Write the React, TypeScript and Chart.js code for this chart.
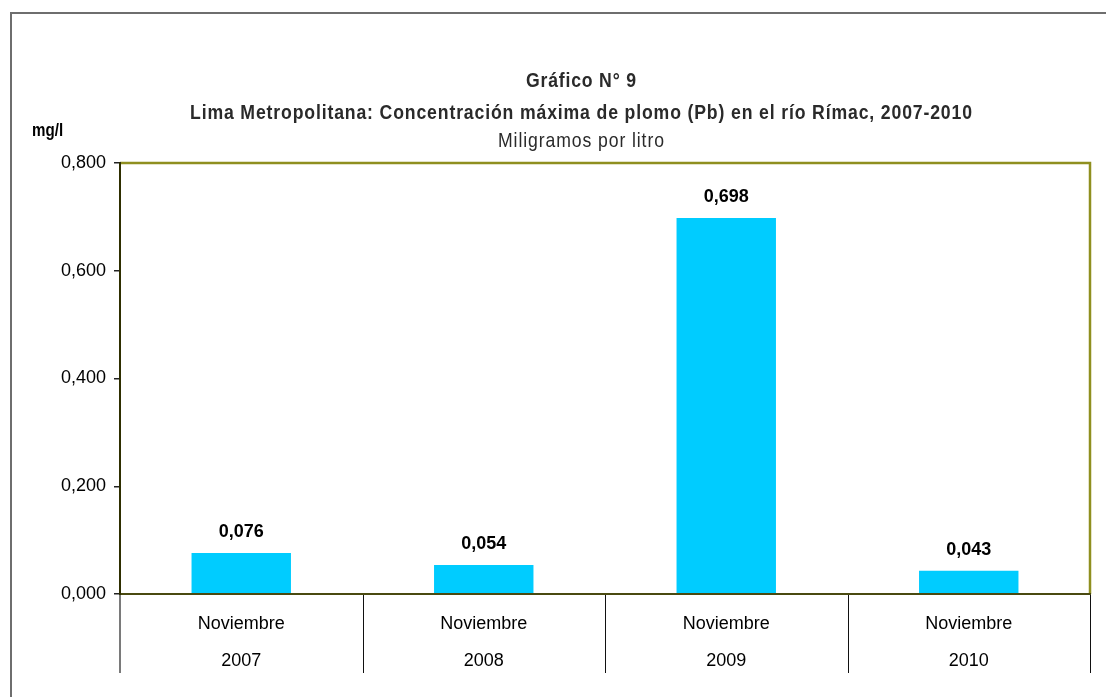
import React, { useEffect, useRef } from "react";
import { Chart, registerables } from "chart.js";

Chart.register(...registerables);

const categories: string[][] = [
  ["Noviembre", "2007"],
  ["Noviembre", "2008"],
  ["Noviembre", "2009"],
  ["Noviembre", "2010"],
];
const values: number[] = [0.076, 0.054, 0.698, 0.043];
const yMin = 0;
const yMax = 0.8;
const yStep = 0.2;
const titleLine1 = "Gráfico N° 9";
const titleLine2 =
  "Lima Metropolitana: Concentración máxima de plomo (Pb) en el río Rímac, 2007-2010";
const subtitle = "Miligramos por litro";
const unitLabel = "mg/l";

const fmt = (v: number) => v.toFixed(3).replace(".", ",");

const BASE_FONT = '"Liberation Sans", Arial, sans-serif';
const NARROW = 0.84;

function drawFitted(
  ctx: CanvasRenderingContext2D,
  text: string,
  cx: number,
  cy: number,
  target: number,
  font: string,
  color: string
) {
  ctx.save();
  ctx.font = font;
  (ctx as any).letterSpacing = "0px";
  const w = ctx.measureText(text).width * NARROW;
  const n = text.length;
  const sp = (target - w) / Math.max(1, n - 1);
  ctx.fillStyle = color;
  ctx.textAlign = "left";
  ctx.textBaseline = "middle";
  let x = cx - target / 2;
  for (const ch of text) {
    ctx.save();
    ctx.translate(x, cy);
    ctx.scale(NARROW, 1);
    ctx.fillText(ch, 0, 0);
    ctx.restore();
    x += ctx.measureText(ch).width * NARROW + sp;
  }
  ctx.restore();
}

const decorPlugin = {
  id: "decor",
  beforeDraw(chart: any) {
    const ctx: CanvasRenderingContext2D = chart.ctx;
    ctx.save();
    ctx.fillStyle = "#ffffff";
    ctx.fillRect(0, 0, chart.width, chart.height);
    ctx.strokeStyle = "#6e6e6e";
    ctx.lineWidth = 2;
    ctx.beginPath();
    ctx.moveTo(11, chart.height);
    ctx.lineTo(11, 13);
    ctx.lineTo(chart.width, 13);
    ctx.stroke();
    ctx.restore();

    drawFitted(ctx, titleLine1, 581, 81, 110, `bold 21px ${BASE_FONT}`, "#2a2a2a");
    drawFitted(ctx, titleLine2, 581, 113, 782, `bold 21px ${BASE_FONT}`, "#2a2a2a");
    drawFitted(ctx, subtitle, 581, 141, 166, `21px ${BASE_FONT}`, "#2a2a2a");

    ctx.save();
    ctx.font = `bold 18px ${BASE_FONT}`;
    ctx.fillStyle = "#000000";
    ctx.textBaseline = "middle";
    ctx.translate(32, 131);
    ctx.scale(NARROW, 1);
    ctx.fillText(unitLabel, 0, 0);
    ctx.restore();
  },
  afterDatasetsDraw(chart: any) {
    const ctx: CanvasRenderingContext2D = chart.ctx;
    const meta = chart.getDatasetMeta(0);
    ctx.save();
    ctx.font = `bold 18px ${BASE_FONT}`;
    ctx.fillStyle = "#000000";
    ctx.textAlign = "center";
    ctx.textBaseline = "middle";
    meta.data.forEach((bar: any, i: number) => {
      ctx.fillText(fmt(values[i]), bar.x, bar.y - 21);
    });
    ctx.restore();
  },
  afterDraw(chart: any) {
    const ctx: CanvasRenderingContext2D = chart.ctx;
    const { left, right, top, bottom } = chart.chartArea;
    const xs = chart.scales.x;
    ctx.save();
    const n = categories.length;
    for (let i = 0; i <= n; i++) {
      let px: number;
      if (i === 0) px = left;
      else if (i === n) px = right;
      else px = (xs.getPixelForValue(i - 1) + xs.getPixelForValue(i)) / 2;
      ctx.strokeStyle = i === 0 ? "#7a7a7a" : "#111111";
      ctx.lineWidth = i === 0 ? 2 : 1;
      ctx.beginPath();
      const xx = i === 0 ? px : Math.round(px) + 0.5;
      ctx.moveTo(xx, bottom);
      ctx.lineTo(xx, bottom + 79);
      ctx.stroke();
    }
    ctx.lineWidth = 2.5;
    ctx.strokeStyle = "#8f8f1f";
    ctx.beginPath();
    ctx.moveTo(left, top);
    ctx.lineTo(right, top);
    ctx.lineTo(right, bottom);
    ctx.stroke();
    ctx.lineWidth = 2;
    ctx.strokeStyle = "#4a4a10";
    ctx.beginPath();
    ctx.moveTo(left - 1, bottom);
    ctx.lineTo(right + 1, bottom);
    ctx.stroke();
    ctx.strokeStyle = "#2e2e00";
    ctx.beginPath();
    ctx.moveTo(left, top - 1);
    ctx.lineTo(left, bottom + 1);
    ctx.stroke();
    ctx.restore();
  },
};

export default function App() {
  const ref = useRef<HTMLCanvasElement>(null);

  useEffect(() => {
    if (!ref.current) return;
    const chart = new Chart(ref.current, {
      type: "bar",
      data: {
        labels: categories,
        datasets: [
          {
            data: values,
            backgroundColor: "#00ccff",
            borderWidth: 0,
            categoryPercentage: 1,
            barPercentage: 0.41,
          },
        ],
      },
      options: {
        responsive: false,
        animation: false,
        layout: { padding: { top: 163, right: 16, left: 0, bottom: 0 } },
        plugins: {
          legend: { display: false },
          tooltip: { enabled: false },
          title: { display: false },
        },
        scales: {
          x: {
            grid: { display: false },
            border: { display: false },
            ticks: {
              autoSkip: false,
              maxRotation: 0,
              padding: 3.5,
              color: "#000000",
              font: { family: BASE_FONT, size: 18, lineHeight: 37 / 18 },
            },
            afterFit: (s: any) => {
              s.height = 103;
            },
          },
          y: {
            min: yMin,
            max: yMax,
            border: { display: false },
            grid: {
              drawOnChartArea: false,
              drawTicks: true,
              tickLength: 6,
              color: "#222222",
              lineWidth: 1.5,
            },
            ticks: {
              stepSize: yStep,
              padding: 8,
              color: "#000000",
              font: { family: BASE_FONT, size: 18 },
              callback: (v: any) => fmt(Number(v)),
            },
            afterFit: (s: any) => {
              s.width = 120;
            },
          },
        },
      },
      plugins: [decorPlugin],
    });
    return () => chart.destroy();
  }, []);

  return (
    <div
      style={{
        position: "fixed",
        left: 0,
        top: 0,
        width: 1106,
        height: 697,
        background: "#ffffff",
      }}
    >
      <canvas
        ref={ref}
        width={1106}
        height={697}
        style={{ display: "block", width: 1106, height: 697 }}
      />
    </div>
  );
}
